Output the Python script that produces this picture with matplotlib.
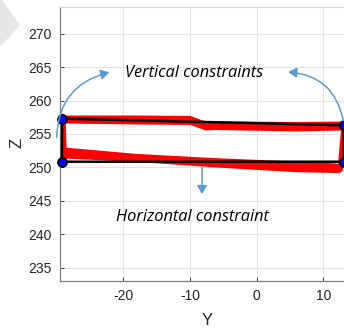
import matplotlib
matplotlib.use("Agg")
import matplotlib.pyplot as plt
from matplotlib.patches import FancyArrowPatch, Polygon

plt.rcParams["axes.unicode_minus"] = False

# --- data ---
top_y = [-29.3, -18.2, -10.0, -7.75, -6.25, 5.75, 13.2]
top_upper = [257.84, 257.84, 257.77, 256.94, 256.94, 256.87, 256.94]
top_lower = [256.64, 256.50, 256.42, 255.60, 255.67, 255.45, 255.60]

bot_y = [-29.0, -18.2, -6.25, 5.75, 11.9]
bot_upper = [253.06, 252.10, 251.46, 250.96, 250.66]
bot_lower = [251.40, 250.90, 250.07, 249.36, 249.24]

left_red_y = [-29.1, -28.9]
left_red_z = [257.6, 251.6]
right_red_y = [13.1, 12.5]
right_red_z = [256.4, 249.7]

frame_y = [-29.2, 13.05, 13.05, -29.2, -29.2]
frame_z = [257.3, 256.3, 250.85, 250.85, 257.3]

marker_y = [-29.2, -29.2, 13.05, 13.05]
marker_z = [257.3, 250.85, 256.4, 250.85]

xticks = [-20, -10, 0, 10]
yticks = [235, 240, 245, 250, 255, 260, 265, 270]

W, H = 344, 330
fig = plt.figure(figsize=(W / 100, H / 100), dpi=100)
fig.patch.set_facecolor("white")

# gray chevron in the top-left corner
fig.patches.append(Polygon([(0, 1), (2 / W, 1), (20 / W, 1 - 25 / H), (0, 1 - 47 / H)],
                           closed=True, transform=fig.transFigure,
                           facecolor="#e6e6e6", edgecolor="none", zorder=0))

ax = fig.add_axes([60 / W, 1 - 281 / H, 294 / W, 274 / H])
ax.set_xlim(-29.5, 14.58)
ax.set_ylim(233.0, 274.0)

ax.set_xticks(xticks)
ax.set_yticks(yticks)
ax.tick_params(direction="in", length=3, width=0.6, colors="#262626",
               labelsize=10, pad=6)
for lab in ax.get_xticklabels() + ax.get_yticklabels():
    lab.set_fontfamily("Liberation Sans")
ax.grid(True, color="#e3e3e3", linewidth=0.8)
ax.set_axisbelow(True)
for s in ["left", "bottom"]:
    ax.spines[s].set_color("#7f7f7f")
    ax.spines[s].set_linewidth(0.9)
ax.spines["top"].set_color("#d9d9d9")
ax.spines["right"].set_visible(False)

# red bands
ax.fill_between(top_y, top_lower, top_upper, color="red", linewidth=0, zorder=2)
ax.fill_between(bot_y, bot_lower, bot_upper, color="red", linewidth=0, zorder=2)
ax.plot(left_red_y, left_red_z, color="red", lw=4.2, solid_capstyle="round", zorder=2)
ax.plot(right_red_y, right_red_z, color="red", lw=3.8, solid_capstyle="round", zorder=2)
ax.plot([bot_y[-1] - 0.2, bot_y[-1] + 0.3], [249.95, 249.95], color="red", lw=6.5,
        solid_capstyle="round", zorder=2)

# black frame and blue markers
ax.plot(frame_y, frame_z, color="black", lw=1.8, zorder=3, clip_on=False)
ax.plot(marker_y, marker_z, "o", markersize=6.5, markerfacecolor="#0000ff",
        markeredgecolor="black", markeredgewidth=1.2, zorder=4, clip_on=False)

# annotations
acol = "#5b9bd5"
a1 = FancyArrowPatch((-30.0, 254.1), (-21.7, 264.3), connectionstyle="arc3,rad=-0.4",
                     arrowstyle="-|>,head_length=5,head_width=3", color=acol, lw=1.1,
                     zorder=5, clip_on=False)
a2 = FancyArrowPatch((13.05, 256.6), (4.3, 264.3), connectionstyle="arc3,rad=0.4",
                     arrowstyle="-|>,head_length=5,head_width=3", color=acol, lw=1.1,
                     zorder=5, clip_on=False)
a3 = FancyArrowPatch((-8.2, 250.4), (-8.2, 245.6),
                     arrowstyle="-|>,head_length=5,head_width=3", color=acol, lw=1.1,
                     zorder=5)
for a in (a1, a2, a3):
    ax.add_patch(a)

ax.text(-9.35, 264.1, "Vertical constraints", style="italic", fontsize=11.8,
        family="Open Sans", ha="center", va="center", color="black")
ax.text(-9.6, 242.6, "Horizontal constraint", style="italic", fontsize=11.8,
        family="Open Sans", ha="center", va="center", color="black")

ax.set_xlabel("Y", fontsize=12, family="Liberation Sans", color="#262626")
ax.set_ylabel("Z", fontsize=12, family="Liberation Sans", color="#262626")
ax.xaxis.set_label_coords(0.5, -(313 - 281) / 274)
ax.yaxis.set_label_coords((24 - 60) / 294, (281 - 143) / 274)

fig.savefig("out.png", dpi=100)
